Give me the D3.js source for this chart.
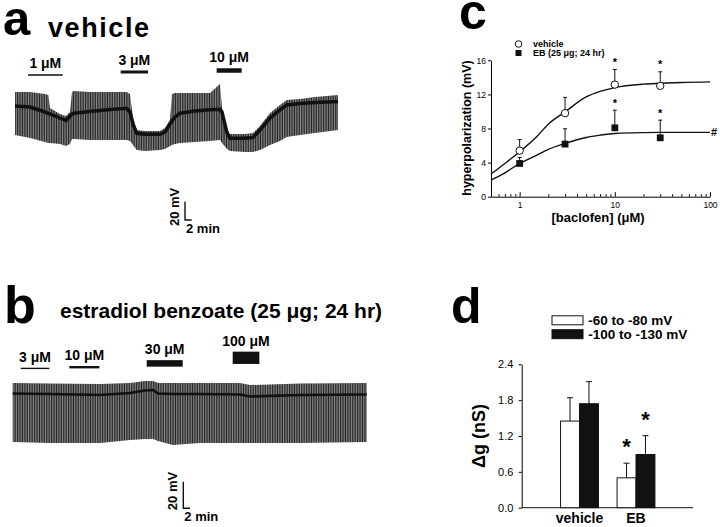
<!DOCTYPE html>
<html>
<head>
<meta charset="utf-8">
<script src="https://cdn.jsdelivr.net/npm/d3@7"></script>
<style>
  body { margin: 0; background: #fff; }
  svg text { font-family: "Liberation Sans", Arial, Helvetica, sans-serif; }
</style>
</head>
<body>
<svg id="fig" width="720" height="527"></svg>
<script>
// ---------- panel a : vehicle trace (time in min, membrane potential in mV)
const tA    = [0, 4.5, 9, 10, 10.5, 13.5, 15.3, 16.5, 17.1, 17.7, 22.5, 28.5, 33.5, 34.5, 35.4, 36.5, 39, 43.5, 45, 46.5, 47.1, 48, 49.5, 54, 58.5, 61.5, 62.1, 63.6, 64.5, 69, 71.4, 73.5, 76.5, 79.5, 81.5, 85.5, 90, 96.9];
const topA  = [-46.6, -46.6, -48.7, -49.8, -64.0, -70.6, -72.8, -68.4, -46.6, -45.5, -46.6, -46.6, -46.6, -48.7, -75.0, -88.1, -89.2, -89.2, -85.9, -77.2, -48.7, -47.7, -47.7, -47.7, -47.7, -37.8, -64.0, -87.0, -92.5, -92.5, -91.4, -83.7, -69.5, -60.8, -55.3, -54.2, -52.0, -49.8];
const baseA = [-61.9, -63.0, -68.4, -70.1, -70.6, -75.0, -77.9, -72.8, -70.6, -69.8, -67.9, -65.7, -64.4, -68.4, -81.5, -91.7, -92.8, -92.8, -90.3, -81.5, -78.3, -73.9, -69.8, -67.3, -66.0, -65.5, -68.4, -91.4, -97.2, -97.2, -96.3, -88.1, -75.0, -66.2, -60.8, -59.1, -58.0, -56.9];
const botA  = [-93.6, -96.8, -101.2, -102.3, -102.3, -103.4, -105.6, -103.4, -97.9, -97.9, -99.0, -99.0, -99.0, -100.1, -104.5, -109.9, -111.0, -109.9, -108.9, -105.6, -104.5, -103.4, -102.3, -101.2, -100.1, -99.0, -102.3, -108.9, -111.0, -112.1, -112.1, -109.9, -104.5, -100.1, -95.7, -93.6, -91.4, -88.1];
const drugLabelsA = ["1 \u03bcM", "3 \u03bcM", "10 \u03bcM"];
const drugStartA  = [3.9, 31.7, 60.5];
const drugEndA    = [14.3, 39.9, 68.0];

// ---------- panel b : estradiol benzoate trace
const tB    = [0, 11.2, 26.2, 35.2, 39.7, 42.1, 43.6, 48.1, 56.2, 68.2, 71.2, 86.2, 106.2];
const topB  = [-40, -40.4, -40.75, -40, -38.5, -38.5, -40, -40, -40, -40, -41.5, -40.4, -40];
const baseB = [-47.9, -48.25, -49, -47.5, -45.6, -45.25, -47.9, -48.25, -48.25, -48.6, -50.1, -49, -48.6];
const botB  = [-84.25, -85, -85, -82.75, -82, -82, -83.5, -86.5, -85, -85, -85, -85, -84.25];
const drugLabelsB = ["3 \u03bcM", "10 \u03bcM", "30 \u03bcM", "100 \u03bcM"];
const drugStartB  = [2.4, 17.0, 40.2, 66.0];
const drugEndB    = [11.0, 26.0, 51.0, 74.0];

// ---------- panel c : concentration-response
const conc     = [1, 3, 10, 30];
const vehMean  = [5.4, 9.8, 13.15, 13.0];
const vehSem   = [1.3, 1.85, 1.77, 1.65];
const vehStar  = [false, false, true, true];
const ebMean   = [3.9, 6.17, 8.08, 6.91];
const ebSem    = [0.7, 1.8, 2.07, 2.07];
const ebStar   = [false, false, true, true];
const fitConc  = [0.5, 0.7, 1, 1.5, 2, 3, 5, 7, 10, 20, 30, 50, 100];
const vehFit   = [2.66, 3.9, 5.27, 7.0, 8.5, 9.95, 11.7, 12.35, 12.8, 13.2, 13.3, 13.4, 13.47];
const ebFit    = [1.95, 2.8, 3.9, 4.85, 5.55, 6.25, 6.95, 7.22, 7.42, 7.52, 7.54, 7.55, 7.55];
const cTicks   = [0, 4, 8, 12, 16];

// ---------- panel d : conductance
const groups    = ["vehicle", "EB"];
const ranges    = ["-60 to -80 mV", "-100 to -130 mV"];
const dgLow     = [1.45, 0.50];
const dgLowSem  = [0.39, 0.245];
const dgLowStar = [false, true];
const dgHigh    = [1.74, 0.89];
const dgHighSem = [0.37, 0.315];
const dgHighStar= [false, true];
const dTicks    = [0, 0.6, 1.2, 1.8, 2.4];

const svg = d3.select("#fig");
const defs = svg.append("defs");
const pat = defs.append("pattern").attr("id", "sweeps")
  .attr("patternUnits", "userSpaceOnUse").attr("width", 1.7).attr("height", 8);
pat.append("rect").attr("width", 1.7).attr("height", 8).attr("fill", "#959595");
pat.append("rect").attr("width", 0.95).attr("height", 8).attr("fill", "#222");

function panelLabel(txt, x, y, size) {
  svg.append("text").attr("x", x).attr("y", y)
    .style("font-size", size + "px").style("font-weight", "bold").text(txt);
}

//Draw a current-clamp trace with its drug bars and scale bar
function drawTrace(opt) {
  const x = d3.scaleLinear().domain([0, d3.max(opt.t)]).range(opt.xRange);
  const y = d3.scaleLinear().domain(opt.yDomain).range(opt.yRange);
  const rows = opt.t.map((t, i) => ({ t, top: opt.top[i], base: opt.base[i], bot: opt.bot[i] }));

  const area = d3.area().x(d => x(d.t)).y0(d => y(d.bot)).y1(d => y(d.top));
  svg.append("path").datum(rows).attr("d", area).attr("fill", "url(#sweeps)");

  const line = d3.line().x(d => x(d.t)).y(d => y(d.base));
  svg.append("path").datum(rows).attr("d", line)
    .attr("fill", "none").attr("stroke", "#111").attr("stroke-width", opt.baseWidth);

  //drug application bars
  opt.labels.forEach((lab, i) => {
    const x0 = x(opt.start[i]), x1 = x(opt.end[i]);
    const th = opt.barThick[i], cy = opt.barY[i];
    svg.append("rect").attr("x", x0).attr("y", cy - th / 2)
      .attr("width", x1 - x0).attr("height", th).attr("fill", "#111");
    svg.append("text").attr("x", (x0 + x1) / 2).attr("y", cy - th / 2 - 6)
      .attr("text-anchor", "middle").style("font-size", "14px").style("font-weight", "bold")
      .text(lab);
  });

  //scale bar: 20 mV / 2 min
  const sx = opt.scaleAt[0], sy = opt.scaleAt[1];
  const h = y(opt.yDomain[0] - 20) - y(opt.yDomain[0]);
  const w = x(2) - x(0);
  svg.append("path").attr("d", `M${sx},${sy - h}V${sy}H${sx + w}`)
    .attr("fill", "none").attr("stroke", "#111").attr("stroke-width", 1.4);
  svg.append("text").attr("transform", `translate(${sx - 6},${sy - h / 2 - 4}) rotate(-90)`)
    .attr("text-anchor", "middle").style("font-size", "13px").style("font-weight", "bold")
    .text("20 mV");
  svg.append("text").attr("x", sx + 1).attr("y", sy + 13)
    .style("font-size", "13px").style("font-weight", "bold").text("2 min");
}

// ---- a
panelLabel("a", 3, 35, 49);
svg.append("text").attr("x", 48).attr("y", 36.5).attr("textLength", 101)
  .style("font-size", "27px").style("font-weight", "bold").text("vehicle");
drawTrace({
  t: tA, top: topA, base: baseA, bot: botA,
  xRange: [15, 338], yDomain: [-40, -115], yRange: [86, 154.6],
  baseWidth: 3.5,
  labels: drugLabelsA, start: drugStartA, end: drugEndA,
  barThick: [1.5, 3, 4.5], barY: [75, 72, 70.5],
  scaleAt: [185, 220]
});

// ---- b
panelLabel("b", 4, 323, 52);
svg.append("text").attr("x", 60).attr("y", 317.5)
  .style("font-size", "21px").style("font-weight", "bold")
  .text("estradiol benzoate (25 \u03bcg; 24 hr)");
drawTrace({
  t: tB, top: topB, base: baseB, bot: botB,
  xRange: [12.7, 366.7], yDomain: [-40, -90], yRange: [383, 449.65],
  baseWidth: 2.6,
  labels: drugLabelsB, start: drugStartB, end: drugEndB,
  barThick: [1.4, 2.4, 6.5, 12.3], barY: [368.4, 367.2, 363.4, 357.8],
  scaleAt: [183.3, 508.3]
});

// ---- c
panelLabel("c", 459, 29, 50);
const xc = d3.scaleLog().domain([0.5, 100]).range([491, 710]);
const yc = d3.scaleLinear().domain([0, 16]).range([196.7, 60.3]);

svg.append("g").attr("transform", "translate(491,0)")
  .call(d3.axisLeft(yc).tickValues(cTicks).tickSize(3).tickSizeOuter(0).tickPadding(2))
  .call(g => g.selectAll("text").style("font-size", "8.5px"));

const minorC = [0.6, 0.7, 0.8, 0.9, 2, 3, 4, 5, 6, 7, 8, 9, 20, 30, 40, 50, 60, 70, 80, 90];
svg.append("g").attr("transform", "translate(0,196.7)")
  .call(d3.axisBottom(xc).tickValues(minorC).tickSize(-2.5).tickFormat(""))
  .call(g => g.select(".domain").remove());
svg.append("g").attr("transform", "translate(0,196.7)")
  .call(d3.axisBottom(xc).tickValues([1, 10, 100]).tickSizeInner(-4.5).tickSizeOuter(0)
    .tickPadding(5).tickFormat(d3.format("d")))
  .call(g => g.selectAll("text").style("font-size", "8.5px"));

svg.append("text").attr("transform", "translate(471,128) rotate(-90)")
  .attr("text-anchor", "middle").style("font-size", "12.5px").style("font-weight", "bold")
  .text("hyperpolarization (mV)");
svg.append("text").attr("x", 598).attr("y", 222).attr("text-anchor", "middle")
  .style("font-size", "13px").style("font-weight", "bold").text("[baclofen] (\u03bcM)");

//fitted curves
const fitLine = d3.line().x(d => xc(d[0])).y(d => yc(d[1])).curve(d3.curveMonotoneX);
[vehFit, ebFit].forEach(fit => {
  svg.append("path").datum(fitConc.map((c, i) => [c, fit[i]])).attr("d", fitLine)
    .attr("fill", "none").attr("stroke", "#111").attr("stroke-width", 1.4);
});

function drawSeries(mean, sem, star, shape) {
  conc.forEach((c, i) => {
    const cx = xc(c), cy = yc(mean[i]), top = yc(mean[i] + sem[i]);
    svg.append("line").attr("x1", cx).attr("x2", cx).attr("y1", cy).attr("y2", top)
      .attr("stroke", "#111").attr("stroke-width", 1);
    svg.append("line").attr("x1", cx - 2).attr("x2", cx + 2).attr("y1", top).attr("y2", top)
      .attr("stroke", "#111").attr("stroke-width", 1);
    if (star[i]) {
      svg.append("text").attr("x", cx).attr("y", top - 3.6).attr("text-anchor", "middle")
        .style("font-size", "11px").style("font-weight", "bold").text("*");
    }
  });
  conc.forEach((c, i) => {
    const cx = xc(c), cy = yc(mean[i]);
    if (shape === "circle") {
      svg.append("circle").attr("cx", cx).attr("cy", cy).attr("r", 3.7)
        .attr("fill", "#fff").attr("stroke", "#111").attr("stroke-width", 1);
    } else {
      svg.append("rect").attr("x", cx - 3.4).attr("y", cy - 3.4).attr("width", 6.8).attr("height", 6.8)
        .attr("fill", "#111");
    }
  });
}
drawSeries(ebMean, ebSem, ebStar, "square");
drawSeries(vehMean, vehSem, vehStar, "circle");

svg.append("text").attr("x", xc(100) + 1).attr("y", yc(ebFit[ebFit.length - 1]) + 4)
  .style("font-size", "11px").style("font-weight", "bold").text("#");

//legend c
svg.append("circle").attr("cx", 518.5).attr("cy", 44).attr("r", 3.3)
  .attr("fill", "#fff").attr("stroke", "#111").attr("stroke-width", 1);
svg.append("rect").attr("x", 515.5).attr("y", 50).attr("width", 6).attr("height", 6).attr("fill", "#111");
svg.append("text").attr("x", 533).attr("y", 47.3).style("font-size", "9px").style("font-weight", "bold").text("vehicle");
svg.append("text").attr("x", 533).attr("y", 56.3).style("font-size", "9px").style("font-weight", "bold").text("EB (25 \u03bcg; 24 hr)");

// ---- d
panelLabel("d", 451, 323, 50);
const yd = d3.scaleLinear().domain([0, 2.4]).range([507.7, 364.3]);
const xd = d3.scaleBand().domain(groups).range([551.25, 664.25]).paddingInner(0.33).paddingOuter(0.165);
const xs = d3.scaleBand().domain(ranges).range([0, xd.bandwidth()]);

svg.append("g").attr("transform", "translate(521.7,0)")
  .call(d3.axisLeft(yd).tickValues(dTicks).tickSize(3).tickSizeOuter(0).tickPadding(5.4)
    .tickFormat(d3.format(".1f")))
  .call(g => g.selectAll("text").style("font-size", "11px"));
svg.append("line").attr("x1", 521.7).attr("x2", 693).attr("y1", yd(0)).attr("y2", yd(0))
  .attr("stroke", "#111").attr("stroke-width", 1);
svg.append("g").attr("transform", `translate(0,${yd(0)})`)
  .call(d3.axisBottom(xd).tickSize(0).tickPadding(5))
  .call(g => g.select(".domain").remove())
  .call(g => g.selectAll("text").style("font-size", "14px").style("font-weight", "bold"));

svg.append("text").attr("transform", "translate(485,436) rotate(-90)")
  .attr("text-anchor", "middle").style("font-size", "18px").style("font-weight", "bold")
  .text("\u0394g (nS)");

const barSets = [
  { key: ranges[0], mean: dgLow, sem: dgLowSem, star: dgLowStar, fill: "#fff" },
  { key: ranges[1], mean: dgHigh, sem: dgHighSem, star: dgHighStar, fill: "#111" }
];
barSets.forEach(s => {
  groups.forEach((g, i) => {
    const bx = xd(g) + xs(s.key), bw = xs.bandwidth();
    const cx = bx + bw / 2, top = yd(s.mean[i] + s.sem[i]);
    svg.append("line").attr("x1", cx).attr("x2", cx).attr("y1", yd(s.mean[i])).attr("y2", top)
      .attr("stroke", "#111").attr("stroke-width", 1);
    svg.append("line").attr("x1", cx - 3).attr("x2", cx + 3).attr("y1", top).attr("y2", top)
      .attr("stroke", "#111").attr("stroke-width", 1);
    svg.append("rect").attr("x", bx).attr("y", yd(s.mean[i]))
      .attr("width", bw).attr("height", yd(0) - yd(s.mean[i]))
      .attr("fill", s.fill).attr("stroke", "#111").attr("stroke-width", 1);
    if (s.star[i]) {
      svg.append("text").attr("x", cx).attr("y", top - 21.7 + 12.8).attr("text-anchor", "middle")
        .style("font-size", "22px").style("font-weight", "bold").text("*");
    }
  });
});

//legend d
barSets.forEach((s, i) => {
  const cy = i === 0 ? 320.3 : 334.2;
  svg.append("rect").attr("x", 552).attr("y", cy - 4.5).attr("width", 31).attr("height", 9)
    .attr("fill", s.fill).attr("stroke", "#111").attr("stroke-width", 1);
  svg.append("text").attr("x", 588.3).attr("y", cy + 4.6)
    .style("font-size", "13.5px").style("font-weight", "bold").text(s.key);
});
</script>
</body>
</html>
